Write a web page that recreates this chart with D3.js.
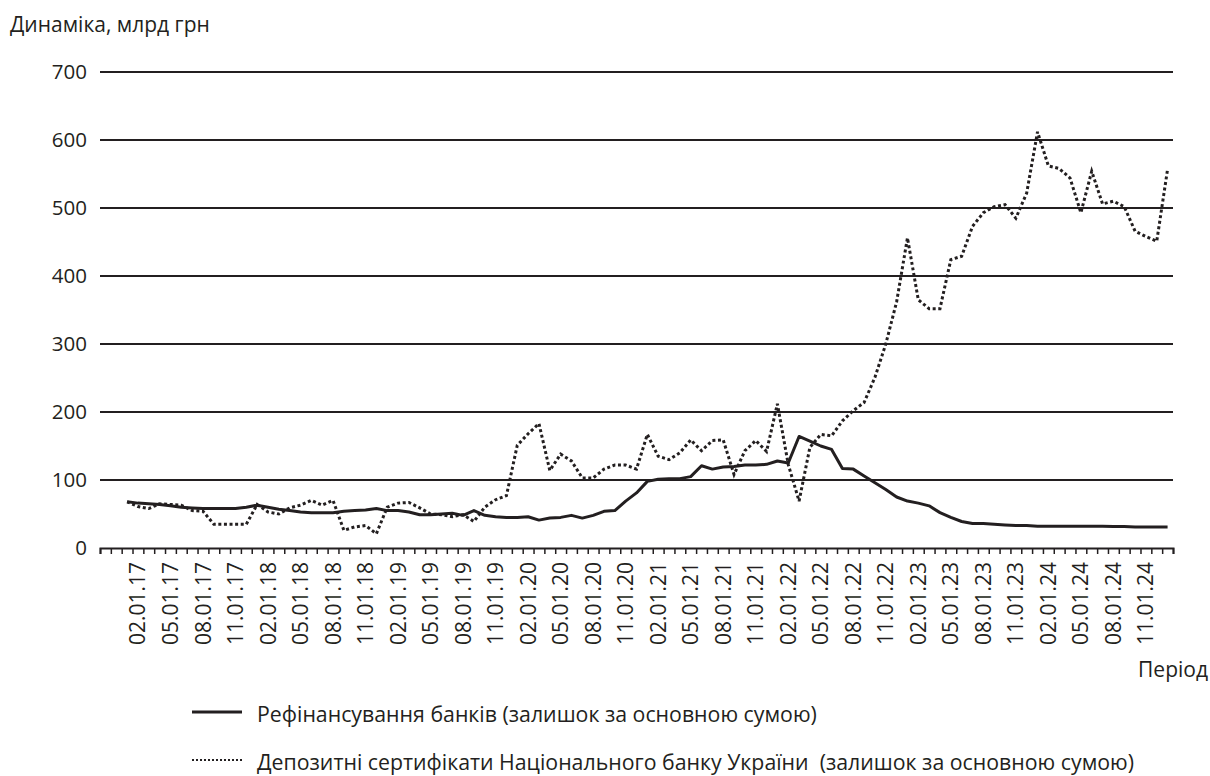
<!DOCTYPE html>
<html>
<head>
<meta charset="utf-8">
<script src="https://cdn.jsdelivr.net/npm/d3@7"></script>
<style>
  body { margin: 0; background: #fff; }
  svg text { font-family: "Open Sans", sans-serif; fill: #231f20; white-space: pre; }
</style>
</head>
<body>
<svg id="chart" width="1210" height="776"></svg>
<script>
// Categories: months on the axis (first two have no data)
const months = d3.timeMonth.range(new Date(2016, 10, 1), new Date(2025, 1, 1));
const fmt = d3.timeFormat("%m.%d.%y");
const categories = months.map(fmt);

// Refinancing of banks, bn UAH (01.2017 .. 01.2025)
const refinancing = [
  68, 66, 65, 64, 62, 60, 59, 58, 58, 58, 58, 60,
  63, 60, 57, 55, 53, 52, 52, 52, 54, 55, 56, 58,
  55, 55, 53, 49, 49, 50, 51, 48, 55, 48, 46, 45,
  45, 46, 41, 44, 45, 48, 44, 48, 54, 55, 69, 81,
  98, 101, 102, 102, 105, 121, 116, 119, 120, 122, 122, 123,
  128, 125, 164, 157, 150, 145, 117, 116, 106, 96, 86, 75,
  69, 66, 62, 52, 45, 39, 36, 36, 35, 34, 33, 33,
  32, 32, 32, 32, 32, 32, 32, 31.5, 31.5, 31, 31, 31,
  31
];

// NBU deposit certificates, bn UAH (01.2017 .. 01.2025)
const certificates = [
  68, 61, 58, 65, 64, 63, 55, 54, 35, 35, 35, 35,
  64, 53, 50, 59, 63, 70, 63, 70, 26, 31, 33, 21,
  60, 66, 67, 59, 50, 49, 46, 49, 39, 60, 71, 77,
  151, 168, 183, 114, 138, 128, 103, 103, 116, 122, 122, 116,
  167, 135, 130, 140, 159, 143, 158, 159, 108, 143, 158, 142,
  212, 123, 69, 148, 167, 165, 187, 202, 214, 251, 300, 362,
  456, 365, 352, 352, 424, 429, 473, 493, 502, 505, 485, 522,
  612, 562, 558, 544, 493, 554, 506, 510, 502, 466, 458, 451,
  557
];

const yTicks = [0, 100, 200, 300, 400, 500, 600, 700];
const labelMonths = ["02", "05", "08", "11"];

const seriesNames = [
  "Рефінансування банків (залишок за основною сумою)",
  "Депозитні сертифікати Національного банку України  (залишок за основною сумою)"
];

const svg = d3.select("#chart");
const plotLeft = 100, plotRight = 1173, plotTop = 72, plotBottom = 548;

const x = d3.scaleBand().domain(categories).range([plotLeft, plotRight]);
const xTick = d3.scaleLinear().domain([0, categories.length]).range([plotLeft, plotRight]);
const y = d3.scaleLinear().domain([0, 700]).range([plotBottom, plotTop]);

// Gridlines
svg.append("g")
  .selectAll("line")
  .data(yTicks.filter(d => d > 0))
  .join("line")
  .attr("x1", plotLeft).attr("x2", plotRight)
  .attr("y1", d => y(d)).attr("y2", d => y(d))
  .attr("stroke", "#231f20")
  .attr("stroke-width", 2);

// Y labels
svg.append("g")
  .selectAll("text")
  .data(yTicks)
  .join("text")
  .attr("x", 87)
  .attr("y", d => y(d))
  .attr("dy", "0.35em")
  .attr("text-anchor", "end")
  .style("font-size", "20.5px")
  .text(d => d);

// X axis tick marks
const axisG = svg.append("g").attr("transform", `translate(0,${plotBottom})`)
  .call(d3.axisBottom(xTick).tickValues(d3.range(categories.length + 1)).tickSize(6).tickFormat(""));
axisG.select(".domain").attr("stroke", "#231f20").attr("stroke-width", 2);
axisG.selectAll(".tick line").attr("stroke", "#231f20").attr("stroke-width", 1.5);

// X labels
svg.append("g")
  .selectAll("text")
  .data(categories.filter((c, i) => i > 1 && labelMonths.includes(c.slice(0, 2))))
  .join("text")
  .attr("transform", d => `translate(${x(d) + x.bandwidth() / 2},${plotBottom + 14}) rotate(-90)`)
  .attr("text-anchor", "end")
  .attr("dy", "0.36em")
  .style("font-size", "21px")
  .text(d => d);

// Lines
const dataCats = categories.slice(2);
const line = d3.line()
  .x((d, i) => x(dataCats[i]) + x.bandwidth() / 2)
  .y(d => y(d));

svg.append("path")
  .datum(certificates)
  .attr("d", line)
  .attr("fill", "none")
  .attr("stroke", "#231f20")
  .attr("stroke-width", 3)
  .attr("stroke-dasharray", "3,2.6")
  .attr("stroke-linejoin", "miter");

svg.append("path")
  .datum(refinancing)
  .attr("d", line)
  .attr("fill", "none")
  .attr("stroke", "#231f20")
  .attr("stroke-width", 3)
  .attr("stroke-linejoin", "round");

// Titles
svg.append("text").attr("x", 10).attr("y", 32).style("font-size", "21px").text("Динаміка, млрд грн");
svg.append("text").attr("x", 1208).attr("y", 677).attr("text-anchor", "end").style("font-size", "21px").text("Період");

// Legend
const legend = svg.append("g")
  .selectAll("g")
  .data(seriesNames)
  .join("g")
  .attr("transform", (d, i) => `translate(192,${712 + i * 48})`);

legend.append("line")
  .attr("x1", 0).attr("x2", 50)
  .attr("stroke", "#231f20")
  .attr("stroke-width", (d, i) => i === 0 ? 3 : 2)
  .attr("stroke-dasharray", (d, i) => i === 0 ? null : "2,2");

legend.append("text")
  .attr("x", 65)
  .attr("y", 2)
  .attr("dy", "0.36em")
  .style("font-size", "21.3px")
  .text(d => d);
</script>
</body>
</html>
